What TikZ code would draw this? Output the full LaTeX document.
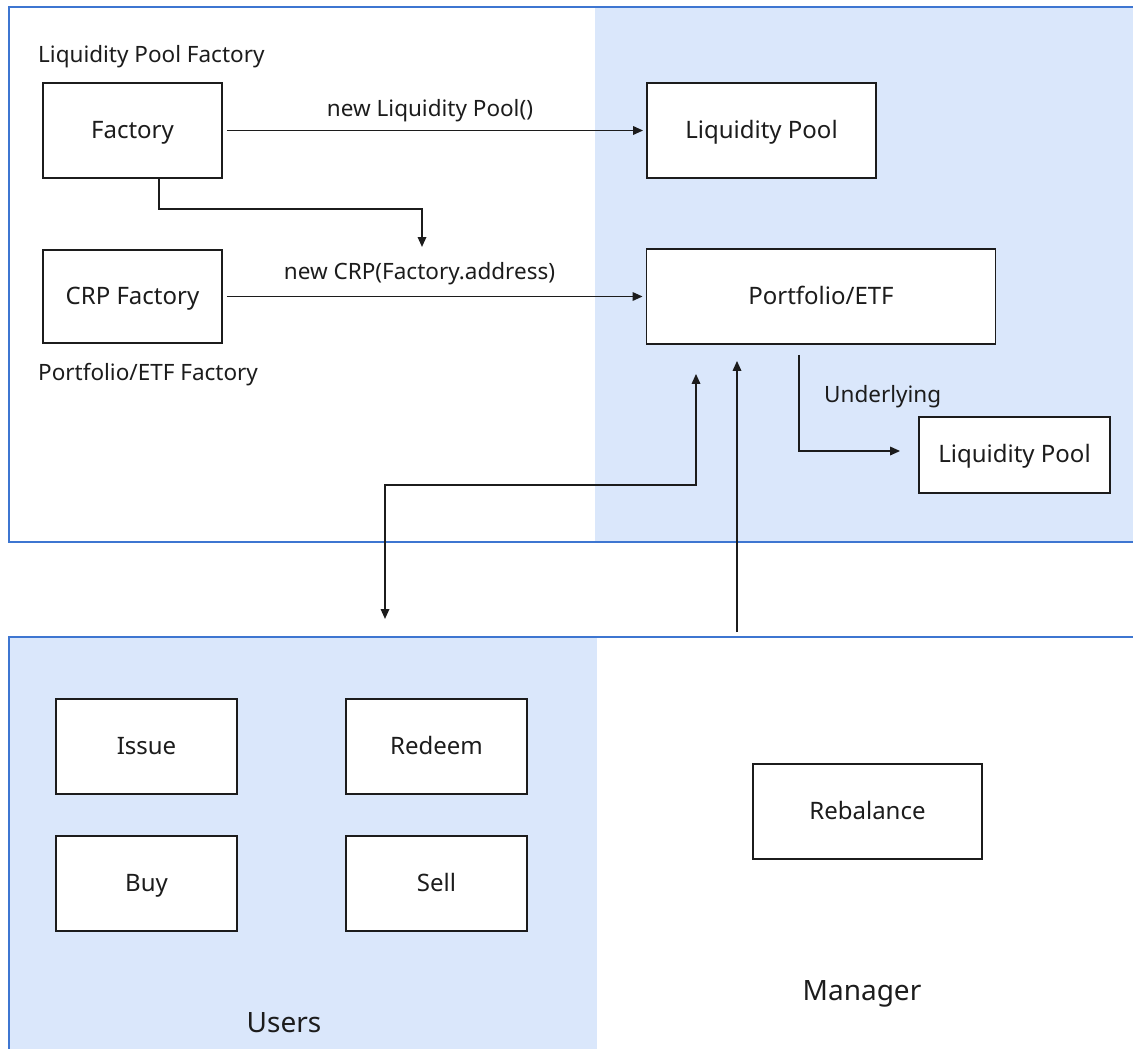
\documentclass[tikz,border=0pt]{standalone}
\usepackage{fontspec}
\setmainfont{Noto Sans}
\usetikzlibrary{arrows.meta}
\definecolor{panelblue}{RGB}{62,118,209}
\definecolor{panelfill}{RGB}{218,231,251}
\definecolor{ink}{RGB}{28,28,28}
\begin{document}
\begin{tikzpicture}[x=1pt,y=-1pt,
  box/.style={draw=ink, line width=1.8pt, fill=white, inner sep=0pt, text=ink,
              text height=17pt, text depth=2pt,
              font=\fontsize{24}{28}\selectfont},
  lbl/.style={inner sep=0pt, anchor=base west, text=ink, font=\fontsize{22.5}{27}\selectfont},
  biglbl/.style={inner sep=0pt, anchor=base, text=ink, font=\fontsize{28}{33}\selectfont},
  tip/.tip={Triangle[length=10pt,width=8.5pt]},
  flow/.style={draw=ink, line width=1.7pt, -tip},
  frame/.style={draw=panelblue, line width=2.6pt},
  region/.style={inner sep=0pt, anchor=north west}]
\useasboundingbox (0,0) rectangle (1133,1049);

% panels: on-chain contracts (top), users and manager (bottom)
\node[region, fill=panelfill, minimum width=538pt, minimum height=535pt] (chain) at (595,7) {};
\node[region, fill=panelfill, minimum width=588pt, minimum height=412pt] (userspanel) at (9,637) {};
\node[region, minimum width=536pt, minimum height=412pt] (mgrpanel) at (597,637) {};
\draw[frame] (1133,7) -- (9,7) -- (9,542) -- (1133,542);
\draw[frame] (1133,637) -- (9,637) -- (9,1049);

% contract boxes
\node[box, minimum width=179pt, minimum height=95pt] (fac) at (132.5,130.5) {Factory};
\node[box, minimum width=229pt, minimum height=95pt] (lp1) at (761.5,130.5) {Liquidity Pool};
\node[box, minimum width=179pt, minimum height=93pt] (crp) at (132.5,296.5) {CRP Factory};
\node[box, minimum width=349pt, minimum height=95pt] (pf) at (821,296.5) {Portfolio/ETF};
\node[box, minimum width=191pt, minimum height=76pt] (lp2) at (1014.5,455) {Liquidity Pool};

% user and manager actions
\node[box, minimum width=181pt, minimum height=95pt] (issue) at (146.5,746.5) {Issue};
\node[box, minimum width=181pt, minimum height=95pt] (redeem) at (436.5,746.5) {Redeem};
\node[box, minimum width=181pt, minimum height=95pt] (buy) at (146.5,883.5) {Buy};
\node[box, minimum width=181pt, minimum height=95pt] (sell) at (436.5,883.5) {Sell};
\node[box, minimum width=229pt, minimum height=95pt] (rebal) at (867.5,811.5) {Rebalance};

% captions
\node[lbl] (lpfcap) at (38,63) {Liquidity Pool Factory};
\node[lbl] (pffcap) at (38,380) {Portfolio/ETF Factory};
\node[lbl] (undcap) at (824,402) {Underlying};
\node[lbl, anchor=base] (newlp) at (430,117) {new Liquidity Pool()};
\node[lbl, anchor=base] (newcrp) at (419.5,279) {new CRP(Factory.address)};
\node[biglbl] (userscap) at (284,1032) {Users};
\node[biglbl] (mgrcap) at (862,1000) {Manager};

% connectors
\coordinate (addr) at (422,247);
\draw[flow, shorten <=4pt, shorten >=3pt] (fac.east) -- (lp1.west);
\draw[flow, shorten <=4pt, shorten >=3pt] (crp.east) -- (pf.west);
\draw[flow] ([xshift=26.5pt]fac.south) -- ++(0,30) -| (addr);
\draw[flow] ([shift={(-22pt,-10pt)}]pf.south) |- ([shift={(-18pt,4pt)}]lp2.west);
\draw[flow, tip-tip] ([shift={(-125pt,-29pt)}]pf.south)
   |- ([shift={(376pt,152pt)}]userspanel.north west)
   -- ([shift={(376pt,18pt)}]userspanel.north west);
\draw[flow] ([shift={(140pt,5pt)}]mgrpanel.north west) -- ([shift={(-84pt,-16pt)}]pf.south);
\end{tikzpicture}
\end{document}
